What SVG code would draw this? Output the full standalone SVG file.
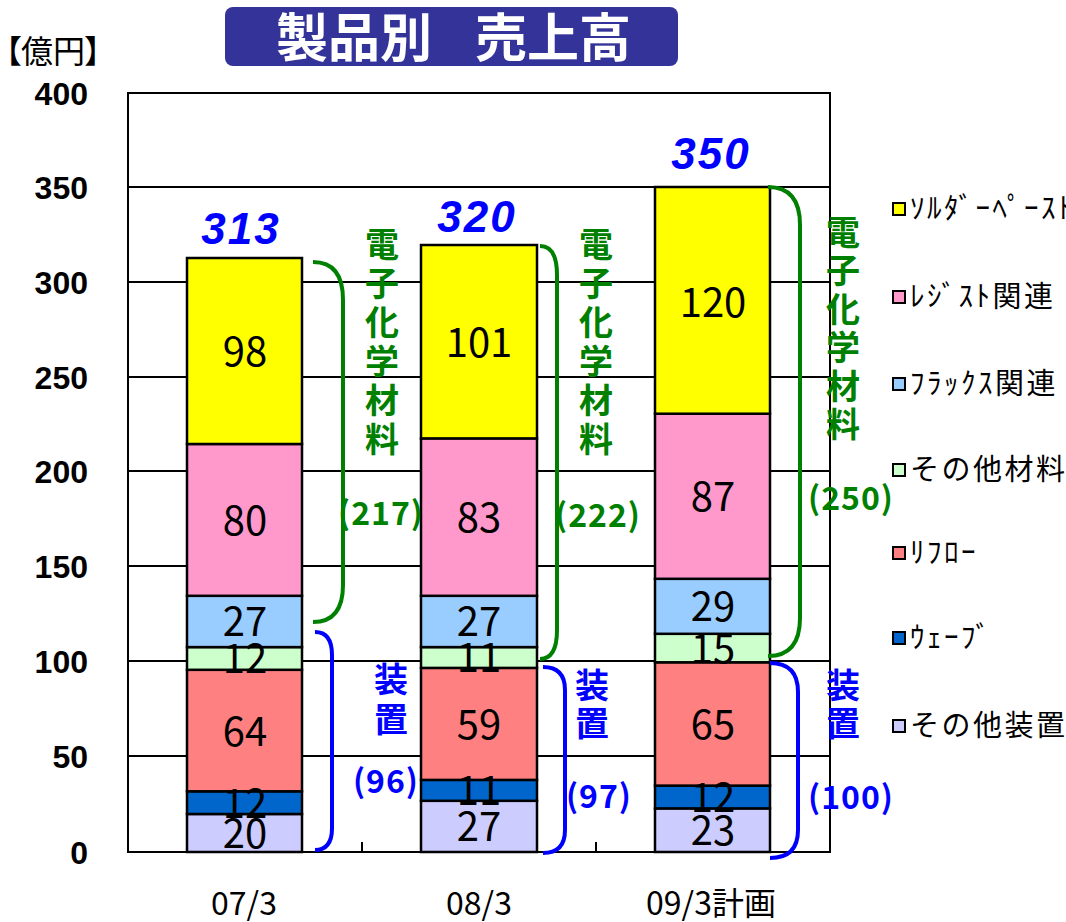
<svg xmlns="http://www.w3.org/2000/svg" width="1066" height="922" viewBox="0 0 1066 922">
<style>
.grid{stroke:#000;stroke-width:2;fill:none}
.seg{stroke:#000;stroke-width:2.5}
.val{font-family:"Noto Sans CJK JP","Noto Sans",sans-serif;font-size:40px;fill:#000;text-anchor:middle}
.ylab{font-family:"Liberation Sans",Arial,sans-serif;font-weight:bold;font-size:32px;fill:#000;text-anchor:end}
.xlab{font-family:"Noto Sans CJK JP",sans-serif;font-size:32px;fill:#000;text-anchor:middle}
.tot{font-family:"Liberation Sans",Arial,sans-serif;font-weight:bold;font-style:italic;font-size:44px;fill:#0000FF;text-anchor:middle;letter-spacing:2px}
.gtx{font-family:"Noto Sans CJK JP",sans-serif;font-weight:bold;font-size:34px;fill:#008000;text-anchor:middle}
.btx{font-family:"Noto Sans CJK JP",sans-serif;font-weight:bold;font-size:34px;fill:#0000FF;text-anchor:middle}
.gsum{font-family:"Noto Sans CJK JP",sans-serif;font-weight:bold;font-size:32px;fill:#008000;text-anchor:middle;letter-spacing:1px}
.bsum{font-family:"Noto Sans CJK JP",sans-serif;font-weight:bold;font-size:32px;fill:#0000FF;text-anchor:middle;letter-spacing:1px}
.gbr{stroke:#008000;stroke-width:4;fill:none}
.bbr{stroke:#0000FF;stroke-width:4;fill:none}
.leg{font-family:"Noto Sans CJK JP",sans-serif;font-size:29px;fill:#000;letter-spacing:2.5px}
.lsq{stroke:#000;stroke-width:2}
.ttl{font-family:"Noto Sans CJK JP",sans-serif;font-weight:bold;font-size:52px;fill:#fff;text-anchor:middle}
.unit{font-family:"Noto Sans CJK JP",sans-serif;font-size:32px;fill:#000}
</style>
<rect width="1066" height="922" fill="#fff"/>

<g id="title">
<rect x="225" y="7" width="453" height="59" rx="8" fill="#333399"/>
<text class="ttl" x="354" y="57">製品別</text>
<text class="ttl" x="553" y="57">売上高</text>
</g>
<g id="unit">
<text class="unit" x="-10" y="63">【</text>
<text class="unit" x="21" y="63">億円</text>
<text class="unit" x="84" y="63">】</text>
</g>

<g id="axes">
<line class="grid" x1="128" y1="187" x2="830" y2="187"/>
<line class="grid" x1="128" y1="282" x2="830" y2="282"/>
<line class="grid" x1="128" y1="377" x2="830" y2="377"/>
<line class="grid" x1="128" y1="471" x2="830" y2="471"/>
<line class="grid" x1="128" y1="566" x2="830" y2="566"/>
<line class="grid" x1="128" y1="661" x2="830" y2="661"/>
<line class="grid" x1="128" y1="756" x2="830" y2="756"/>
<rect class="grid" x="128" y="93" width="702" height="759"/>
<line class="grid" x1="362" y1="842" x2="362" y2="852"/>
<line class="grid" x1="596" y1="842" x2="596" y2="852"/>
<text class="ylab" x="88" y="105">400</text>
<text class="ylab" x="88" y="199">350</text>
<text class="ylab" x="88" y="294">300</text>
<text class="ylab" x="88" y="389">250</text>
<text class="ylab" x="88" y="483">200</text>
<text class="ylab" x="88" y="578">150</text>
<text class="ylab" x="88" y="673">100</text>
<text class="ylab" x="88" y="768">50</text>
<text class="ylab" x="88" y="864">0</text>
<text class="xlab" x="244" y="915">07/3</text>
<text class="xlab" x="479" y="915">08/3</text>
<text class="xlab" x="711" y="915">09/3計画</text>
</g>

<g id="bar-07">
<rect class="seg" x="187" y="814" width="115" height="38" fill="#CCCCFF"/>
<rect class="seg" x="187" y="791.3" width="115" height="22.7" fill="#0066CC"/>
<rect class="seg" x="187" y="669.8" width="115" height="121.5" fill="#FF8080"/>
<rect class="seg" x="187" y="647.1" width="115" height="22.7" fill="#CCFFCC"/>
<rect class="seg" x="187" y="595.8" width="115" height="51.3" fill="#99CCFF"/>
<rect class="seg" x="187" y="444" width="115" height="151.8" fill="#FF99CC"/>
<rect class="seg" x="187" y="258" width="115" height="186" fill="#FFFF00"/>
<text class="val" x="245" y="848">20</text>
<text class="val" x="245" y="818">12</text>
<text class="val" x="245" y="746">64</text>
<text class="val" x="245" y="673">12</text>
<text class="val" x="245" y="636">27</text>
<text class="val" x="245" y="535">80</text>
<text class="val" x="245" y="366">98</text>
<text class="tot" x="241" y="244">313</text>
</g>

<g id="bar-08">
<rect class="seg" x="421" y="800.8" width="116" height="51.2" fill="#CCCCFF"/>
<rect class="seg" x="421" y="779.9" width="116" height="20.9" fill="#0066CC"/>
<rect class="seg" x="421" y="667.9" width="116" height="112" fill="#FF8080"/>
<rect class="seg" x="421" y="647.1" width="116" height="20.8" fill="#CCFFCC"/>
<rect class="seg" x="421" y="595.8" width="116" height="51.3" fill="#99CCFF"/>
<rect class="seg" x="421" y="438.4" width="116" height="157.4" fill="#FF99CC"/>
<rect class="seg" x="421" y="245" width="116" height="193.4" fill="#FFFF00"/>
<text class="val" x="479" y="841">27</text>
<text class="val" x="479" y="805">11</text>
<text class="val" x="479" y="739">59</text>
<text class="val" x="479" y="672">11</text>
<text class="val" x="479" y="636">27</text>
<text class="val" x="479" y="532">83</text>
<text class="val" x="479" y="357">101</text>
<text class="tot" x="477" y="232">320</text>
</g>

<g id="bar-09">
<rect class="seg" x="655" y="808.4" width="115" height="43.6" fill="#CCCCFF"/>
<rect class="seg" x="655" y="785.6" width="115" height="22.8" fill="#0066CC"/>
<rect class="seg" x="655" y="662.3" width="115" height="123.3" fill="#FF8080"/>
<rect class="seg" x="655" y="633.8" width="115" height="28.5" fill="#CCFFCC"/>
<rect class="seg" x="655" y="578.8" width="115" height="55" fill="#99CCFF"/>
<rect class="seg" x="655" y="413.7" width="115" height="165.1" fill="#FF99CC"/>
<rect class="seg" x="655" y="187" width="115" height="226.7" fill="#FFFF00"/>
<text class="val" x="713" y="845">23</text>
<text class="val" x="713" y="812">12</text>
<text class="val" x="713" y="739">65</text>
<text class="val" x="713" y="663">15</text>
<text class="val" x="713" y="621">29</text>
<text class="val" x="713" y="511">87</text>
<text class="val" x="713" y="317">120</text>
<text class="tot" x="711" y="169">350</text>
</g>

<g id="connectors">
<path class="gbr" d="M313,262 Q343,262 343,300 L343,585 Q343,622 313,622"/>
<path class="gbr" d="M540,246 Q557,246 557,275 L557,630 Q557,659 540,659"/>
<path class="gbr" d="M768,187 Q800,187 800,225 L800,618 Q800,656 768,656"/>
<path class="bbr" d="M315,632 Q332,632 332,655 L332,828 Q332,850 315,850"/>
<path class="bbr" d="M543,667 Q565,667 565,690 L565,830 Q565,853 543,853"/>
<path class="bbr" d="M770,663 Q798,663 798,692 L798,830 Q798,858 770,858"/>
</g>

<g id="label-chem-07">
<text class="gtx"><tspan x="382" y="257">電</tspan><tspan x="382" y="296">子</tspan><tspan x="382" y="335">化</tspan><tspan x="382" y="374">学</tspan><tspan x="382" y="413">材</tspan><tspan x="382" y="452">料</tspan></text>
<text class="gsum" x="381" y="525">(217)</text>
</g>
<g id="label-chem-08">
<text class="gtx"><tspan x="596" y="257">電</tspan><tspan x="596" y="296">子</tspan><tspan x="596" y="335">化</tspan><tspan x="596" y="374">学</tspan><tspan x="596" y="413">材</tspan><tspan x="596" y="452">料</tspan></text>
<text class="gsum" x="598" y="527">(222)</text>
</g>
<g id="label-chem-09">
<text class="gtx"><tspan x="843" y="245">電</tspan><tspan x="843" y="283">子</tspan><tspan x="843" y="322">化</tspan><tspan x="843" y="360">学</tspan><tspan x="843" y="399">材</tspan><tspan x="843" y="437">料</tspan></text>
<text class="gsum" x="851" y="510">(250)</text>
</g>
<g id="label-equip-07">
<text class="btx"><tspan x="391" y="692">装</tspan><tspan x="391" y="732">置</tspan></text>
<text class="bsum" x="386" y="793">(96)</text>
</g>
<g id="label-equip-08">
<text class="btx"><tspan x="592" y="698">装</tspan><tspan x="592" y="736">置</tspan></text>
<text class="bsum" x="599" y="808">(97)</text>
</g>
<g id="label-equip-09">
<text class="btx"><tspan x="843" y="698">装</tspan><tspan x="843" y="736">置</tspan></text>
<text class="bsum" x="851" y="809">(100)</text>
</g>

<g id="legend">
<rect class="lsq" x="893" y="203" width="12" height="12" fill="#FFFF00"/>
<text class="leg" x="910" y="219">ｿﾙﾀﾞｰﾍﾟｰｽﾄ</text>
<rect class="lsq" x="893" y="291" width="12" height="12" fill="#FF99CC"/>
<text class="leg" x="910" y="307">ﾚｼﾞｽﾄ関連</text>
<rect class="lsq" x="893" y="378" width="12" height="12" fill="#99CCFF"/>
<text class="leg" x="910" y="394">ﾌﾗｯｸｽ関連</text>
<rect class="lsq" x="893" y="464" width="12" height="12" fill="#CCFFCC"/>
<text class="leg" x="910" y="480">その他材料</text>
<rect class="lsq" x="893" y="547" width="12" height="12" fill="#FF8080"/>
<text class="leg" x="910" y="563">ﾘﾌﾛｰ</text>
<rect class="lsq" x="893" y="632" width="12" height="12" fill="#0066CC"/>
<text class="leg" x="910" y="648">ｳｪｰﾌﾞ</text>
<rect class="lsq" x="893" y="720" width="12" height="12" fill="#CCCCFF"/>
<text class="leg" x="910" y="736">その他装置</text>
</g>
</svg>
